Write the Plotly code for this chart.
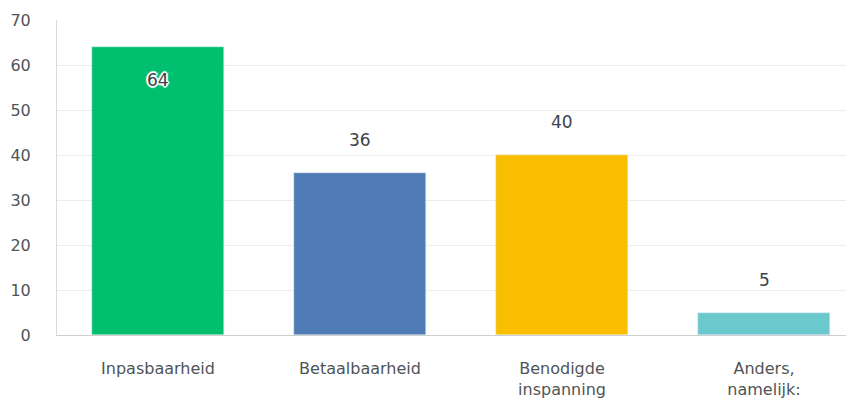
import plotly.graph_objects as go

categories = ["Inpasbaarheid", "Betaalbaarheid", "Benodigde<br>inspanning", "Anders,<br>namelijk:"]
values = [64, 36, 40, 5]
colors = ["#00bf6f", "#507cb6", "#f9be00", "#6bc8cd"]

fig = go.Figure(go.Bar(
    x=list(range(len(values))),
    y=values,
    marker_color=colors,
    width=0.655,
    hoverinfo="skip",
))

# value labels: above the bar, or inside if there is no room
halo = ("2px 0 1px white, -2px 0 1px white, 0 2px 1px white, 0 -2px 1px white, "
        "1px 1px 1px white, -1px -1px 1px white, 1px -1px 1px white, -1px 1px 1px white")
for i, v in enumerate(values):
    inside = v + 7 > 70
    fig.add_annotation(
        x=i, y=v, text=str(v), showarrow=False,
        yshift=-33 if inside else 33,
        font=dict(family="DejaVu Sans", size=17, color="#3b4249",
                  shadow=halo if inside else "none"),
    )

fig.update_layout(
    width=854, height=403,
    margin=dict(l=49, r=0, t=12, b=76),
    plot_bgcolor="white", paper_bgcolor="white",
    showlegend=False,
    font=dict(family="DejaVu Sans", color="#333e48"),
    bargap=0,
)
fig.update_xaxes(
    tickmode="array", tickvals=list(range(len(values))), ticktext=categories,
    range=[-0.5, 3.485],
    showgrid=False, showline=True, linecolor="#cfcfcf", linewidth=1,
    tickfont=dict(size=16, color="#4f5457"),
    ticks="outside", ticklen=19, tickcolor="rgba(0,0,0,0)",
)
fig.update_yaxes(
    range=[0, 70], dtick=10,
    showgrid=True, gridcolor="#ececec", gridwidth=1,
    showline=True, linecolor="#d9d9d9", linewidth=1,
    zeroline=False,
    tickfont=dict(size=16, color="#4f5457"),
    ticklabelstandoff=22,
)

fig.write_html("out.html")
